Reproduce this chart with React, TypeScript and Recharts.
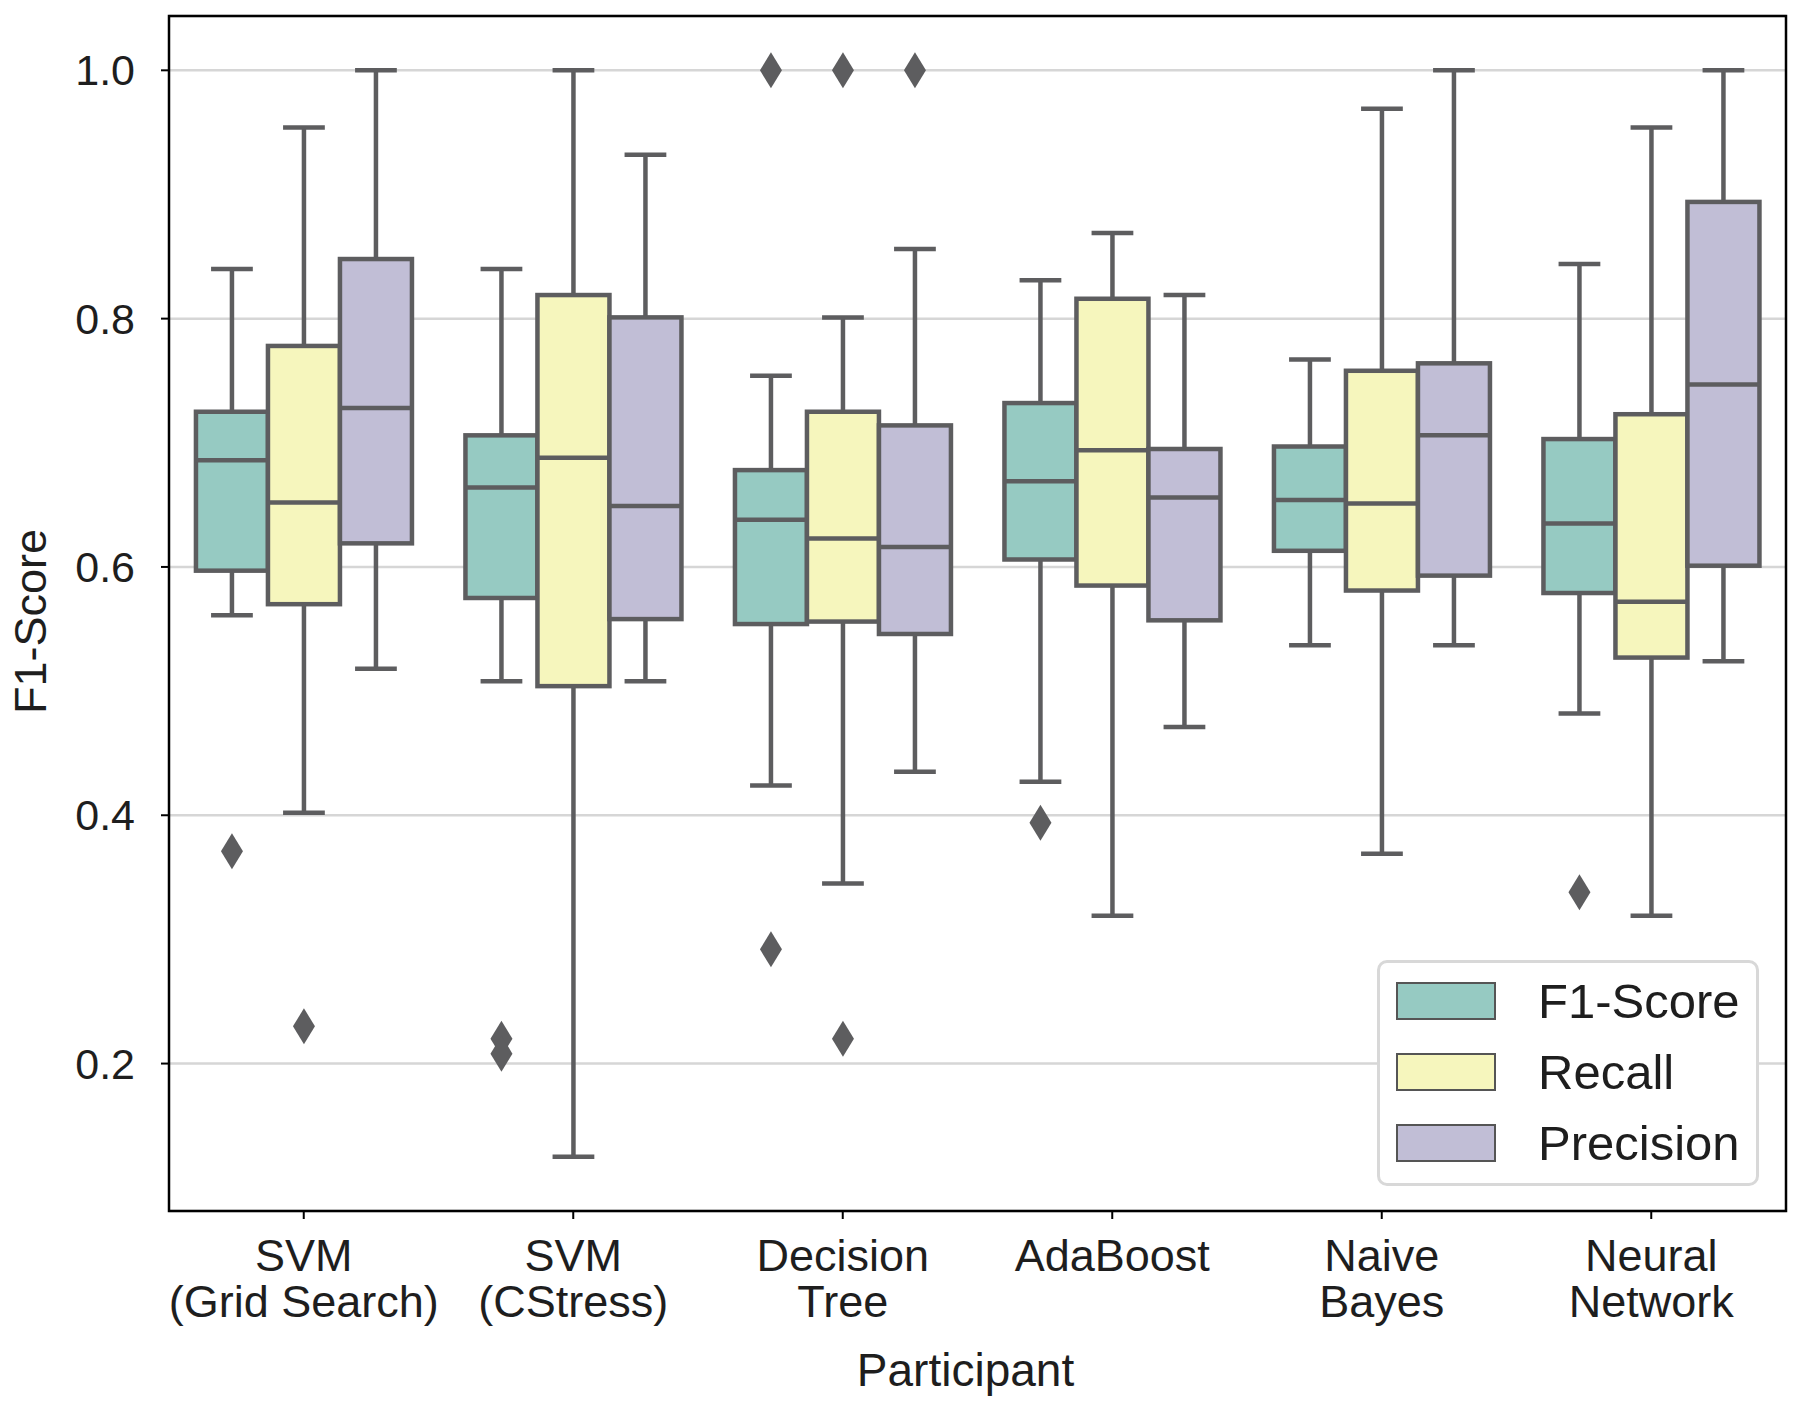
import React from "react";
import { Bar, CartesianGrid, ComposedChart, Legend, ReferenceArea, XAxis, YAxis } from "recharts";

const FONT = "'Liberation Sans', Arial, sans-serif";

const models = [
  "SVM\n(Grid Search)",
  "SVM\n(CStress)",
  "Decision\nTree",
  "AdaBoost",
  "Naive\nBayes",
  "Neural\nNetwork",
];

// [lower whisker, q1, median, q3, upper whisker]
const f1Stats = [
  [0.561, 0.597, 0.686, 0.725, 0.84],
  [0.508, 0.575, 0.664, 0.706, 0.84],
  [0.424, 0.554, 0.638, 0.678, 0.754],
  [0.427, 0.606, 0.669, 0.732, 0.831],
  [0.537, 0.613, 0.654, 0.697, 0.767],
  [0.482, 0.579, 0.635, 0.703, 0.844],
];
const recallStats = [
  [0.402, 0.57, 0.652, 0.778, 0.954],
  [0.125, 0.504, 0.688, 0.819, 1.0],
  [0.345, 0.556, 0.623, 0.725, 0.801],
  [0.319, 0.585, 0.694, 0.816, 0.869],
  [0.369, 0.581, 0.651, 0.758, 0.969],
  [0.319, 0.527, 0.572, 0.723, 0.954],
];
const precisionStats = [
  [0.518, 0.619, 0.728, 0.848, 1.0],
  [0.508, 0.558, 0.649, 0.801, 0.932],
  [0.435, 0.546, 0.616, 0.714, 0.856],
  [0.471, 0.557, 0.656, 0.695, 0.819],
  [0.537, 0.593, 0.706, 0.764, 1.0],
  [0.524, 0.601, 0.747, 0.894, 1.0],
];

const f1Outliers = [[0.371], [0.22, 0.208], [1.0, 0.292], [0.394], [], [0.338]];
const recallOutliers = [[0.23], [], [1.0, 0.22], [], [], []];
const precisionOutliers = [[], [], [1.0], [], [], []];

const yTicks = [0.2, 0.4, 0.6, 0.8, 1.0];
const yDomain = [0.08125, 1.04375];

const colors = { f1: "#96cac2", recall: "#f6f6bd", precision: "#c1bed6" };
const lineColor = "#5d5d5f";
const LW = 4.5;

const data = models.map((name, i) => ({
  name,
  f1: [f1Stats[i][0], f1Stats[i][4]],
  recall: [recallStats[i][0], recallStats[i][4]],
  precision: [precisionStats[i][0], precisionStats[i][4]],
  f1Stats: f1Stats[i],
  recallStats: recallStats[i],
  precisionStats: precisionStats[i],
  f1Outliers: f1Outliers[i],
  recallOutliers: recallOutliers[i],
  precisionOutliers: precisionOutliers[i],
}));

// y/height of the range bar come from the y scale; the other stats are placed on the same line
function BoxShape(props: any) {
  const { x, y, width, height, payload, k, fill } = props;
  const s = payload[k + "Stats"];
  const outs: number[] = payload[k + "Outliers"];
  const lo = s[0];
  const hi = s[4];
  const toY = (v: number) => y + (height * (hi - v)) / (hi - lo);
  const cx = x + width / 2;
  const bw = width;
  const cap = bw * 0.29;
  return (
    <g>
      <line x1={cx} x2={cx} y1={toY(s[4])} y2={toY(s[3])} stroke={lineColor} strokeWidth={LW} />
      <line x1={cx} x2={cx} y1={toY(s[1])} y2={toY(s[0])} stroke={lineColor} strokeWidth={LW} />
      <line x1={cx - cap} x2={cx + cap} y1={toY(s[4])} y2={toY(s[4])} stroke={lineColor} strokeWidth={LW} />
      <line x1={cx - cap} x2={cx + cap} y1={toY(s[0])} y2={toY(s[0])} stroke={lineColor} strokeWidth={LW} />
      <rect
        x={cx - bw / 2}
        y={toY(s[3])}
        width={bw}
        height={toY(s[1]) - toY(s[3])}
        fill={fill}
        stroke={lineColor}
        strokeWidth={LW}
      />
      <line x1={cx - bw / 2} x2={cx + bw / 2} y1={toY(s[2])} y2={toY(s[2])} stroke={lineColor} strokeWidth={LW} />
      {outs.map((v, i) => {
        const oy = toY(v);
        return (
          <path
            key={i}
            d={`M${cx},${oy - 18} L${cx + 11},${oy} L${cx},${oy + 18} L${cx - 11},${oy} Z`}
            fill={lineColor}
          />
        );
      })}
    </g>
  );
}

function XTick(props: any) {
  const { x, y, payload } = props;
  const lines = String(payload.value).split("\n");
  return (
    <g transform={`translate(${x},${y})`}>
      {lines.map((l, i) => (
        <text key={i} x={0} y={50 + i * 46} textAnchor="middle" fontSize={45} fontFamily={FONT} fill="#1e1e1e">
          {l}
        </text>
      ))}
    </g>
  );
}

function YTick(props: any) {
  const { x, y, payload } = props;
  return (
    <text x={x} y={y} dy="0.35em" textAnchor="end" fontSize={43} fontFamily={FONT} fill="#1e1e1e">
      {Number(payload.value).toFixed(1)}
    </text>
  );
}

function YLabel(props: any) {
  const vb = props.viewBox || { x: 0, y: 16, width: 169, height: 1195 };
  const cx = vb.x + 30;
  const cy = vb.y + vb.height / 2 + 8;
  return (
    <text
      transform={`translate(${cx},${cy}) rotate(-90)`}
      dy="0.35em"
      textAnchor="middle"
      fontSize={45}
      fontFamily={FONT}
      fill="#1e1e1e"
    >
      F1-Score
    </text>
  );
}

function XLabel(props: any) {
  const vb = props.viewBox || { x: 169, y: 1211, width: 1617, height: 197 };
  return (
    <text
      x={vb.x + vb.width / 2 - 12}
      y={vb.y + 159 + 16}
      textAnchor="middle"
      fontSize={46}
      fontFamily={FONT}
      fill="#1e1e1e"
    >
      Participant
    </text>
  );
}

function LegendBox() {
  const items = [
    { label: "F1-Score", color: colors.f1 },
    { label: "Recall", color: colors.recall },
    { label: "Precision", color: colors.precision },
  ];
  return (
    <div
      style={{
        width: 382,
        height: 226,
        boxSizing: "border-box",
        border: "3px solid #d8d8d8",
        borderRadius: 10,
        background: "#fff",
        paddingTop: 2,
        paddingLeft: 16,
      }}
    >
      {items.map((it) => (
        <div key={it.label} style={{ display: "flex", alignItems: "center", height: 71 }}>
          <div
            style={{
              width: 100,
              height: 38,
              boxSizing: "border-box",
              background: it.color,
              border: "2.5px solid #555",
            }}
          />
          <span style={{ marginLeft: 42, fontSize: 49, fontFamily: FONT, color: "#1e1e1e" }}>{it.label}</span>
        </div>
      ))}
    </div>
  );
}

export default function App() {
  return (
    <div style={{ position: "absolute", left: 0, top: 0, width: 1800, height: 1408, background: "#fff" }}>
      <ComposedChart
        width={1800}
        height={1408}
        data={data}
        margin={{ top: 16, right: 14, bottom: 0, left: 0 }}
        barCategoryGap="10%"
        barGap={0}
      >
        <CartesianGrid vertical={false} stroke="#d6d6d6" strokeWidth={2.5} />
        <XAxis
          dataKey="name"
          type="category"
          interval={0}
          height={197}
          axisLine={false}
          tickLine={{ stroke: "#000", strokeWidth: 2 }}
          tickSize={8}
          tickMargin={2}
          tick={<XTick />}
          label={<XLabel />}
        />
        <YAxis
          type="number"
          domain={yDomain}
          ticks={yTicks}
          allowDataOverflow
          width={169}
          axisLine={false}
          tickLine={{ stroke: "#000", strokeWidth: 2 }}
          tickSize={8}
          tickMargin={26}
          tick={<YTick />}
          label={<YLabel />}
        />
        <ReferenceArea y1={yDomain[0]} y2={yDomain[1]} fill="none" stroke="#000" strokeWidth={2.5} />
        <Bar dataKey="f1" name="F1-Score" fill={colors.f1} isAnimationActive={false} shape={(p: any) => <BoxShape {...p} k="f1" fill={colors.f1} />} />
        <Bar dataKey="recall" name="Recall" fill={colors.recall} isAnimationActive={false} shape={(p: any) => <BoxShape {...p} k="recall" fill={colors.recall} />} />
        <Bar dataKey="precision" name="Precision" fill={colors.precision} isAnimationActive={false} shape={(p: any) => <BoxShape {...p} k="precision" fill={colors.precision} />} />
        <Legend
          layout="horizontal"
          verticalAlign="middle"
          align="center"
          content={<LegendBox />}
          wrapperStyle={{ left: 1377, top: 960, width: 382, height: 226 }}
        />
      </ComposedChart>
    </div>
  );
}
